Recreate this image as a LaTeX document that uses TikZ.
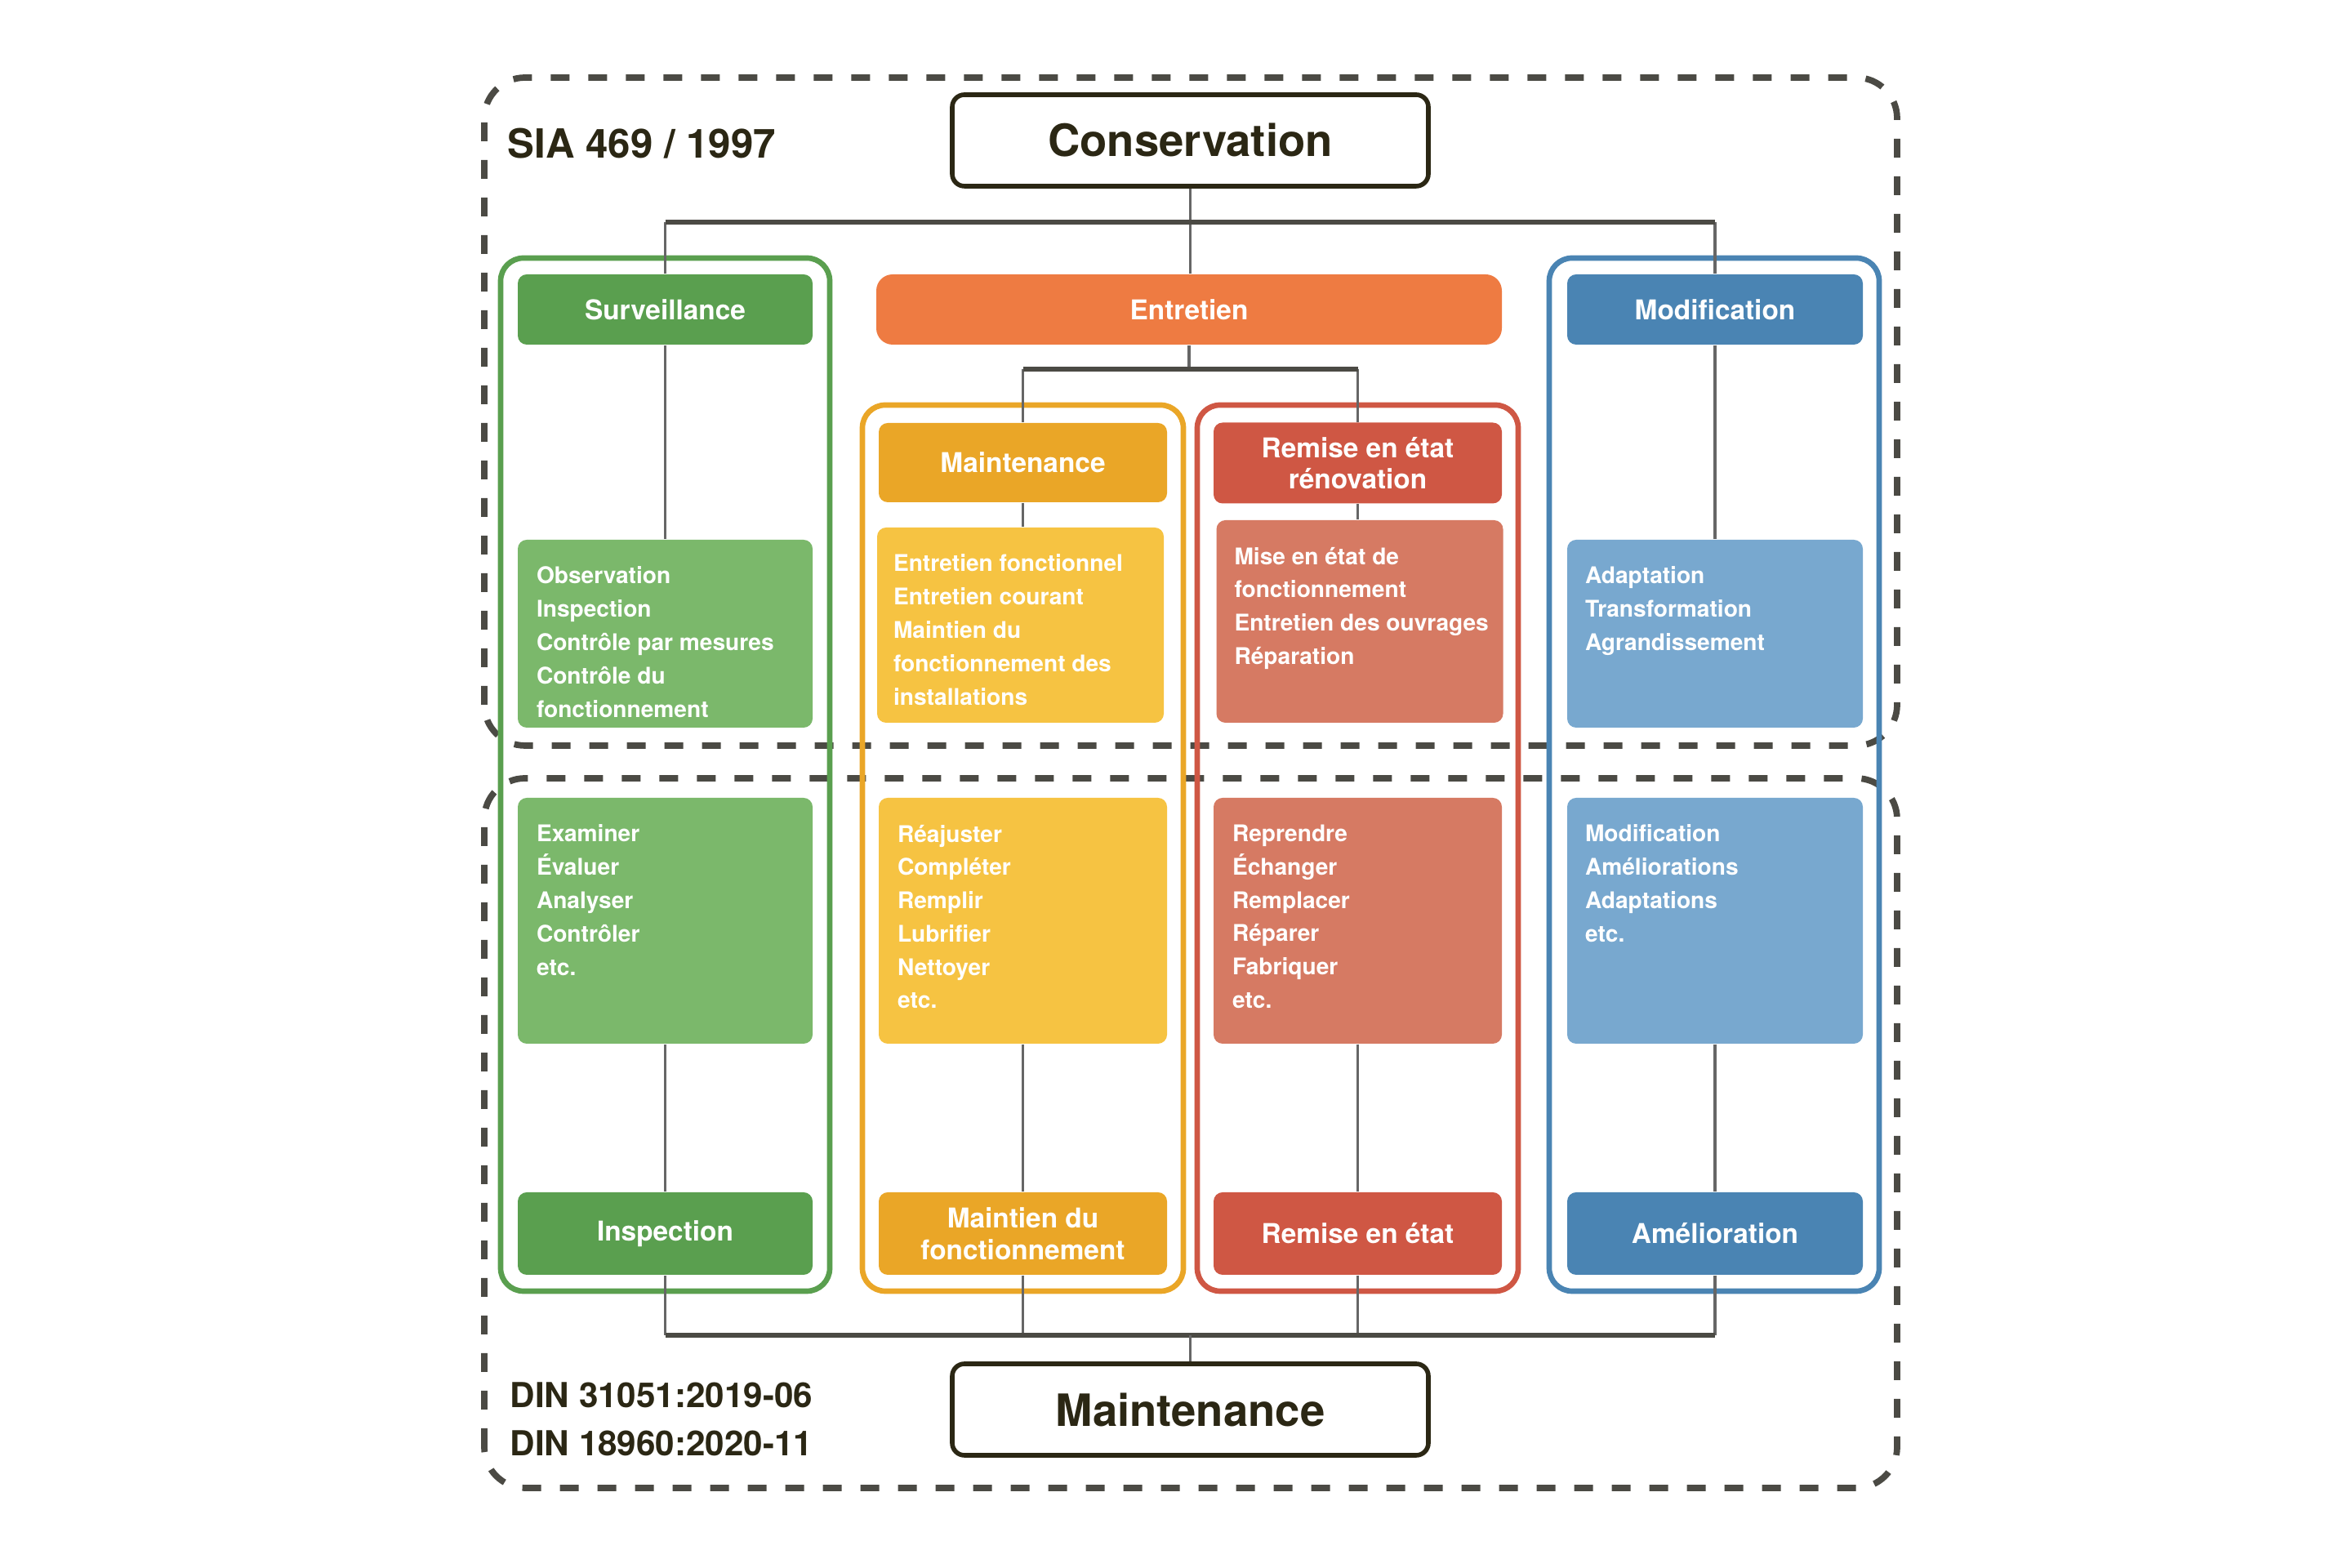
\documentclass[tikz,border=0pt]{standalone}
\usepackage{fontspec}
\setmainfont{TeX Gyre Heros}
\usetikzlibrary{positioning}

\definecolor{survdark}{HTML}{5A9F4F}
\definecolor{survlight}{HTML}{7BB86B}
\definecolor{entrorange}{HTML}{EE7B42}
\definecolor{maintdark}{HTML}{EAA627}
\definecolor{maintlight}{HTML}{F6C342}
\definecolor{remdark}{HTML}{CF5744}
\definecolor{remlight}{HTML}{D67A63}
\definecolor{moddark}{HTML}{4A84B3}
\definecolor{modlight}{HTML}{78A8CF}
\definecolor{inkdark}{HTML}{2B2714}
\definecolor{dashgray}{HTML}{4B4A44}
\definecolor{linegray}{HTML}{666666}

\newcommand\headfont{\fontsize{9.5}{11}\selectfont\bfseries}
\newcommand\listfont{\fontsize{8}{11.6}\selectfont\bfseries}
\newcommand\bigfont{\fontsize{15.5}{18}\selectfont\bfseries}

\tikzset{
  headbox/.style={rounded corners=0.11cm, text=white, font=\headfont, align=center, inner sep=0},
  listbox/.style={rounded corners=0.11cm, inner sep=0},
  listtext/.style={text=white, font=\listfont, align=left, inner sep=0},
  mainbox/.style={draw=inkdark, line width=1.6pt, rounded corners=0.15cm, text=inkdark, font=\bigfont, minimum width=5.83cm, minimum height=1.12cm},
  colframe/.style={line width=1.9pt, rounded corners=0.28cm},
  stdframe/.style={dashgray, line width=2.2pt, dash pattern=on 2.3mm off 2.3mm, rounded corners=0.5cm},
  stdlabel/.style={anchor=west, text=inkdark, inner sep=0},
  link/.style={linegray, line width=1pt},
  bus/.style={dashgray, line width=1.6pt},
}

\begin{document}
\begin{tikzpicture}
\useasboundingbox (0,0) rectangle (28.8,19.2);

\draw[stdframe] (5.93,10.07) rectangle (23.23,18.25);
\draw[stdframe] (5.93,0.98) rectangle (23.23,9.67);

\draw[colframe, survdark] (6.13,3.39) rectangle (10.16,16.04);
\draw[colframe, maintdark] (10.56,3.39) rectangle (14.49,14.24);
\draw[colframe, remdark] (14.66,3.39) rectangle (18.59,14.24);
\draw[colframe, moddark] (18.97,3.39) rectangle (23.01,16.04);

\node[stdlabel, font=\fontsize{14}{16}\selectfont\bfseries] (sia) at (6.21,17.44) {SIA 469 / 1997};
\node[stdlabel, font=\fontsize{12}{14}\selectfont\bfseries] (din1) at (6.24,2.12) {DIN 31051:2019-06};
\node[stdlabel, font=\fontsize{12}{14}\selectfont\bfseries] (din2) at (6.24,1.53) {DIN 18960:2020-11};

\node[mainbox] (cons) at (14.575,17.48) {Conservation};
\node[mainbox] (maint) at (14.575,1.94) {Maintenance};

\node[headbox, fill=survdark, minimum width=3.61cm, minimum height=0.86cm] (surv) at (8.145,15.41) {Surveillance};
\node[headbox, fill=entrorange, rounded corners=0.2cm, minimum width=7.66cm, minimum height=0.86cm] (entr) at (14.56,15.41) {Entretien};
\node[headbox, fill=moddark, minimum width=3.62cm, minimum height=0.86cm] (modi) at (21.0,15.41) {Modification};
\node[headbox, fill=maintdark, minimum width=3.53cm, minimum height=0.97cm] (mnt) at (12.525,13.535) {Maintenance};
\node[headbox, fill=remdark, minimum width=3.53cm, minimum height=0.99cm] (rem) at (16.625,13.53) {Remise en état\\rénovation};

\node[listbox, fill=survlight, minimum width=3.61cm, minimum height=2.30cm] (obs) at (8.145,11.44) {};
\node[listbox, fill=maintlight, minimum width=3.51cm, minimum height=2.39cm] (mntlist) at (12.495,11.545) {};
\node[listbox, fill=remlight, minimum width=3.51cm, minimum height=2.48cm] (remlist) at (16.65,11.59) {};
\node[listbox, fill=modlight, minimum width=3.62cm, minimum height=2.30cm] (adap) at (21.0,11.44) {};

\node[listbox, fill=survlight, minimum width=3.61cm, minimum height=3.01cm] (exam) at (8.145,7.925) {};
\node[listbox, fill=maintlight, minimum width=3.53cm, minimum height=3.01cm] (reaj) at (12.525,7.925) {};
\node[listbox, fill=remlight, minimum width=3.53cm, minimum height=3.01cm] (repr) at (16.625,7.925) {};
\node[listbox, fill=modlight, minimum width=3.62cm, minimum height=3.01cm] (mods) at (21.0,7.925) {};

\node[headbox, fill=survdark, minimum width=3.61cm, minimum height=1.01cm] (insp) at (8.145,4.095) {Inspection};
\node[headbox, fill=maintdark, minimum width=3.53cm, minimum height=1.01cm] (mdf) at (12.525,4.095) {Maintien du\\fonctionnement};
\node[headbox, fill=remdark, minimum width=3.53cm, minimum height=1.01cm] (remb) at (16.625,4.095) {Remise en état};
\node[headbox, fill=moddark, minimum width=3.62cm, minimum height=1.01cm] (amel) at (21.0,4.095) {Amélioration};

\node[listtext, below right=0.33cm and 0.23cm of obs.north west] (obstext) {Observation\\Inspection\\Contrôle par mesures\\Contrôle du\\fonctionnement};
\node[listtext, below right=0.33cm and 0.2cm of mntlist.north west] (mnttext) {Entretien fonctionnel\\Entretien courant\\Maintien du\\fonctionnement des\\installations};
\node[listtext, below right=0.33cm and 0.22cm of remlist.north west] (remtext) {Mise en état de\\fonctionnement\\Entretien des ouvrages\\Réparation};
\node[listtext, below right=0.33cm and 0.22cm of adap.north west] (adaptext) {Adaptation\\Transformation\\Agrandissement};
\node[listtext, below right=0.33cm and 0.23cm of exam.north west] (examtext) {Examiner\\Évaluer\\Analyser\\Contrôler\\etc.};
\node[listtext, below right=0.33cm and 0.23cm of reaj.north west] (reajtext) {Réajuster\\Compléter\\Remplir\\Lubrifier\\Nettoyer\\etc.};
\node[listtext, below right=0.33cm and 0.23cm of repr.north west] (reprtext) {Reprendre\\Échanger\\Remplacer\\Réparer\\Fabriquer\\etc.};
\node[listtext, below right=0.33cm and 0.22cm of mods.north west] (modstext) {Modification\\Améliorations\\Adaptations\\etc.};

\coordinate (topbus) at (14.575,16.48);
\coordinate (subbus) at (14.575,14.68);
\coordinate (lowbus) at (14.575,2.85);

\draw[link] (cons.south) -- (cons.south |- entr.north);
\draw[link] (surv.north |- topbus) -- (surv.north);
\draw[link] (modi.north |- topbus) -- (modi.north);
\draw[bus] (surv.north |- topbus) -- (modi.north |- topbus);

\draw[link] (entr.south) -- (entr.south |- subbus);
\draw[link] (mnt.north |- subbus) -- (mnt.north);
\draw[link] (rem.north |- subbus) -- (rem.north);
\draw[bus] (mnt.north |- subbus) -- (rem.north |- subbus);

\draw[link] (surv.south) -- (obs.north);
\draw[link] (mnt.south) -- (mnt.south |- mntlist.north);
\draw[link] (rem.south) -- (rem.south |- remlist.north);
\draw[link] (modi.south) -- (adap.north);

\draw[link] (exam.south) -- (insp.north);
\draw[link] (reaj.south) -- (mdf.north);
\draw[link] (repr.south) -- (remb.north);
\draw[link] (mods.south) -- (amel.north);

\draw[link] (insp.south) -- (insp.south |- lowbus);
\draw[link] (mdf.south) -- (mdf.south |- lowbus);
\draw[link] (remb.south) -- (remb.south |- lowbus);
\draw[link] (amel.south) -- (amel.south |- lowbus);
\draw[bus] (insp.south |- lowbus) -- (amel.south |- lowbus);
\draw[link] (lowbus) -- (maint.north);

\end{tikzpicture}
\end{document}
